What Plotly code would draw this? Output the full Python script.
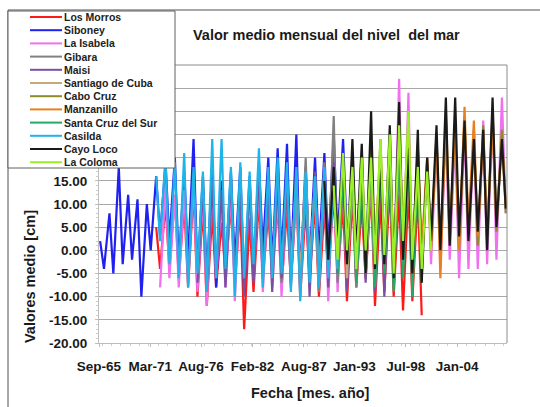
import plotly.graph_objects as go

# Monthly mean sea level per station, sampled as seasonal minimum (Mar) and
# maximum (Oct) values, in cm. Each list starts at the month in FIRST_POINT.
los_morros = [5, -4, 10, -4, 12, -6, 10, -8, 13, -10, 9, -12, 8, -8, 6, -5, 10, -7, 9,
              -17, 7, -9, 11, -6, 8, -5, 10, -8, 9, -7, 12, -10, 9, -6, 10, -10, 9,
              -5, 12, -6, 10, -11, 12, -8, 10, -6, 13, -12, 11, -9, 14, -10, 12,
              -13, 13, -11, 12, -14]
siboney = [2, -4, 8, -5, 18, -3, 12, -2, 11, -10, 10, 0, 16, 3, 19, 2, 20, -3, 17,
           -2, 24, -5, 16, -6, 18, -8, 15, -4, 17, -3, 18, -9, 16, -5, 19, 0, 20,
           -3, 22, -2, 23, -4, 25, -6, 18, -3, 20, -1, 21, 0, 25, 2, 24, 3]
la_isabela = [-8, 14, -6, 12, -8, 13, -7, 15, -9, 12, -12, 14, -6, 11, -8, 13, -11, 15,
              -7, 12, -6, 14, -9, 13, -8, 12, -10, 15, -7, 13, -9, 14, -8, 16, -8, 15,
              -11, 17, -9, 16, -7, 18, -8, 17, -5, 20, -9, 22, -4, 24, -6, 37, -3, 34,
              -8, 22, -5, 20, -3, 24, -4, 26, -2, 25, -6, 27, -4, 26, -4, 28, -3, 30,
              -2, 33, 8]
gibara = [14, -6, 13, -4, 15, -7, 14, -5, 16, -8, 20, -6, 15, -9, 19, -5, 29, -7, 17,
          -4, 16, -8, 18, -6, 15, -9]
maisi = [-7, 14, -9, 15, -5, 13, -8, 16, -6, 14, -10, 15, -7, 17, -5, 14, -9, 16, -6, 15,
         -8, 18, -7, 16, -10, 17, -6, 15, -8, 19, -5, 17, -9, 18, -6, 16, -7, 20, -9, 18,
         -10, 21, -6, 19, -6]
santiago_de_cuba = [-4, 15, -6, 16, -3, 14, -7, 17, -5, 16, -4, 18, -6, 15, -3, 19,
                    -5, 17, -7, 20, -4, 18, -6, 21, -3, 19, -5]
cabo_cruz = [0, 18, -2, 22, -4, 24, 0, 20, -6, 26, -1, 25, -3, 22, -2, 19, 1, 25, -1, 28,
             2, 27, 0, 29, 3, 25, 1, 27, 2, 30, 4, 26, 8]
manzanillo = [0, 15, -2, 18, 2, 20, 0, 22, -3, 25, 3, 28, -2, 22, 0, 20, 0, 24, -6, 30,
              4, 26, 0, 31, 5, 28, 3, 25, 4, 27, 6, 24, 10]
santa_cruz_del_sur = [-5, 16, -3, 18, -7, 15, -4, 20, -8, 19, -5, 21, -9, 22, -6, 20,
                      -10, 18, -7]
casilda = [16, 2, 20, -3, 19, -6, 21, -8, 18, -5, 17, -9, 24, -6, 24, -4, 18, -10, 19,
           -6, 17, -3, 22, -8, 18, -6, 20, -5, 19, -9, 18, -11, 17, -7, 16, -8, 18,
           -6, 15, -4]
cayo_loco = [15, -2, 18, 0, 20, -3, 24, -1, 23, -5, 30, -4, 20, -3, 27, -6, 32, -2, 22,
             -5, 26, -7, 20, 2, 27, 0, 33, 1, 33, 3, 28, 2, 24, 4, 26, 0, 33, 5, 24, 9]
la_coloma = [14, -2, 21, 0, 18, -4, 20, 0, 20, -3, 24, -1, 25, -5, 27, 2, 30, -2, 18,
             -4, 17, 0]

STATIONS = ["Los Morros", "Siboney", "La Isabela", "Gibara", "Maisi",
            "Santiago de Cuba", "Cabo Cruz", "Manzanillo", "Santa Cruz del Sur",
            "Casilda", "Cayo Loco", "La Coloma"]
SERIES = [los_morros, siboney, la_isabela, gibara, maisi, santiago_de_cuba,
          cabo_cruz, manzanillo, santa_cruz_del_sur, casilda, cayo_loco, la_coloma]
FIRST_POINT = ["1971-10", "1965-10", "1972-03", "1982-10", "1976-03", "1986-03",
               "1993-03", "1993-03", "1991-03", "1971-10", "1989-10", "1990-10"]
COLORS = ["#FF1A1A", "#2020F0", "#F070F0", "#808080", "#7A4FA0", "#C8A878",
          "#8C8C28", "#E8801E", "#22AA66", "#1EB4E8", "#1A1A1A", "#9CF028"]

X_TICKS = ["1965-09-01", "1971-03-01", "1976-08-01", "1982-02-01",
           "1987-08-01", "1993-01-01", "1998-07-01", "2004-01-01"]
X_LABELS = ["Sep-65", "Mar-71", "Aug-76", "Feb-82", "Aug-87", "Jan-93", "Jul-98", "Jan-04"]
Y_TICKS = list(range(-20, 45, 5))
# labels above 15 sit beneath the legend box, so they are left blank
Y_LABELS = [f"{v:.2f}" if v <= 15 else "" for v in Y_TICKS]


def seasonal_dates(first, n):
    """Alternating March / October dates starting at 'YYYY-MM'."""
    year, month = map(int, first.split("-"))
    out = []
    for _ in range(n):
        out.append(f"{year}-{month:02d}-15")
        if month == 3:
            month = 10
        else:
            month, year = 3, year + 1
    return out


# page geometry (pixels) of the plotting area
W, H = 540, 407
L, R, T, B = 99, 507, 65, 343


def px(x):
    return (x - L) / (R - L)


def py(y):
    return (B - y) / (B - T)


FONT = "Liberation Sans, Arial, sans-serif"

fig = go.Figure()
for name, vals, first, color in zip(STATIONS, SERIES, FIRST_POINT, COLORS):
    fig.add_trace(go.Scatter(
        x=seasonal_dates(first, len(vals)), y=vals, name=name, mode="lines",
        line=dict(color=color, width=2.2), showlegend=False,
    ))

shapes = [
    # outer chart frame (top and left edges)
    dict(type="line", xref="paper", yref="paper", x0=px(8), x1=px(545), y0=py(10), y1=py(10),
         line=dict(color="#505050", width=1)),
    dict(type="line", xref="paper", yref="paper", x0=px(8), x1=px(8), y0=py(10), y1=py(412),
         line=dict(color="#505050", width=1)),
    # plot-area border (top and right)
    dict(type="line", xref="paper", yref="paper", x0=0, x1=1, y0=1, y1=1,
         line=dict(color="#8C8C8C", width=1)),
    dict(type="line", xref="paper", yref="paper", x0=1, x1=1, y0=0, y1=1,
         line=dict(color="#8C8C8C", width=1)),
    # legend box
    dict(type="rect", xref="paper", yref="paper", layer="above",
         x0=px(8), x1=px(175), y0=py(168), y1=py(11),
         fillcolor="white", line=dict(color="#606060", width=1)),
]

annotations = []
for i, (name, color) in enumerate(zip(STATIONS, COLORS)):
    yy = 17 + i * 13.2
    shapes.append(dict(type="line", xref="paper", yref="paper", layer="above",
                       x0=px(30), x1=px(62), y0=py(yy), y1=py(yy),
                       line=dict(color=color, width=2)))
    annotations.append(dict(xref="paper", yref="paper", x=px(62), y=py(yy),
                            xanchor="left", yanchor="middle", showarrow=False,
                            text=f"<b>{name}</b>",
                            font=dict(family=FONT, size=10.5, color="#222222")))

annotations += [
    dict(xref="paper", yref="paper", x=px(191), y=py(35), xanchor="left", yanchor="middle",
         showarrow=False, text="<b>Valor medio mensual del nivel  del mar</b>",
         font=dict(family=FONT, size=14.5, color="#1A1A1A")),
    dict(xref="paper", yref="paper", x=px(310), y=py(393), xanchor="center", yanchor="middle",
         showarrow=False, text="<b>Fecha [mes. año]</b>",
         font=dict(family=FONT, size=14.5, color="#1A1A1A")),
    dict(xref="paper", yref="paper", x=px(30), y=py(277), xanchor="center", yanchor="middle",
         showarrow=False, textangle=-90, text="<b>Valores medio [cm]</b>",
         font=dict(family=FONT, size=14.5, color="#1A1A1A")),
]

fig.update_layout(
    width=W, height=H,
    margin=dict(l=L, r=W - R, t=T, b=H - B, pad=0),
    paper_bgcolor="white", plot_bgcolor="white",
    font=dict(family=FONT, color="#1A1A1A"),
    shapes=shapes, annotations=annotations,
    xaxis=dict(
        type="date", range=["1965-09-01", "2009-05-01"],
        tickmode="array", tickvals=X_TICKS, ticktext=X_LABELS,
        tickfont=dict(family=FONT, size=13.5, weight="bold", color="#1A1A1A"),
        showgrid=False, zeroline=False,
        showline=True, linecolor="#BDBDBD", linewidth=1,
        ticks="outside", ticklen=3, tickcolor="#BDBDBD", ticklabelstandoff=8,
        minor=dict(ticks="outside", ticklen=2, dtick="M12", tickcolor="#CFCFCF"),
    ),
    yaxis=dict(
        range=[-20, 40], tickmode="array", tickvals=Y_TICKS, ticktext=Y_LABELS,
        tickfont=dict(family=FONT, size=13.5, weight="bold", color="#1A1A1A"),
        showgrid=True, gridcolor="#A8A8A8", gridwidth=1, zeroline=False,
        showline=True, linecolor="#BDBDBD", linewidth=1,
        ticks="outside", ticklen=3, tickcolor="#BDBDBD", ticklabelstandoff=5,
        minor=dict(ticks="outside", ticklen=2, dtick=1, tickcolor="#CFCFCF"),
    ),
)

fig.write_html("out.html")
